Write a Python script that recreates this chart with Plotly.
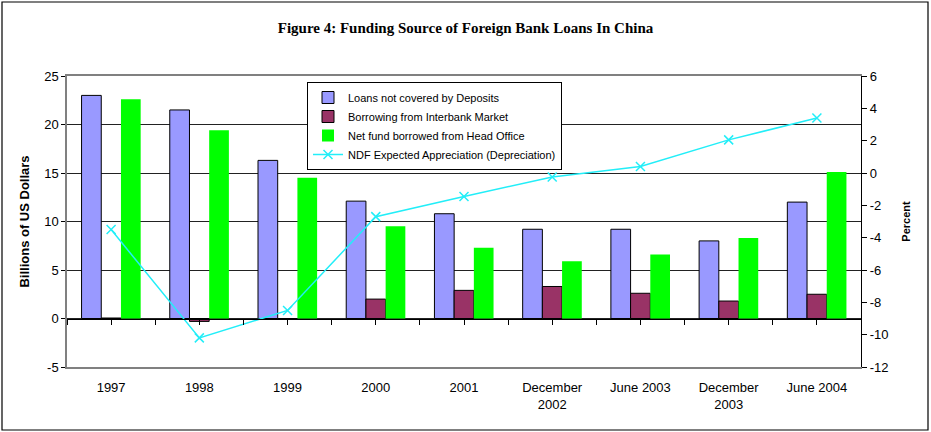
import plotly.graph_objects as go

# Periods shown along the category axis
periods = ["1997", "1998", "1999", "2000", "2001", "December<br>2002",
           "June 2003", "December<br>2003", "June 2004"]

# Funding sources, billions of US dollars
loans_not_covered = [23.0, 21.5, 16.3, 12.1, 10.8, 9.2, 9.2, 8.0, 12.0]
interbank_borrowing = [0.05, -0.3, -0.1, 2.0, 2.9, 3.3, 2.6, 1.8, 2.5]
head_office_funds = [22.6, 19.4, 14.5, 9.5, 7.3, 5.9, 6.6, 8.3, 15.1]

# NDF expected appreciation (depreciation), percent
ndf_expected = [-3.5, -10.2, -8.5, -2.7, -1.45, -0.25, 0.4, 2.05, 3.4]

# Axis tick values (labels use a plain hyphen for negatives)
left_ticks = [-5, 0, 5, 10, 15, 20, 25]
right_ticks = [-12, -10, -8, -6, -4, -2, 0, 2, 4, 6]

xpos = list(range(len(periods)))

W, H = 931, 432
ML, MR, MT, MB = 67, 70, 76, 65
pw, ph = W - ML - MR, H - MT - MB

FONT = "Liberation Sans, Arial, sans-serif"

fig = go.Figure()
fig.add_trace(go.Bar(
    x=xpos, y=loans_not_covered, name="Loans not covered by Deposits",
    marker=dict(color="#9999FF", line=dict(color="black", width=1)),
))
fig.add_trace(go.Bar(
    x=xpos, y=interbank_borrowing, name="Borrowing from Interbank Market",
    marker=dict(color="#993366", line=dict(color="black", width=1)),
))
fig.add_trace(go.Bar(
    x=xpos, y=head_office_funds, name="Net fund borrowed from Head Office",
    marker=dict(color="#00FF00", line=dict(width=0)),
))
fig.add_trace(go.Scatter(
    x=xpos, y=ndf_expected, yaxis="y2", mode="lines+markers",
    name="NDF Expected Appreciation (Depreciation)",
    line=dict(color="#22EEF8", width=1.5),
    marker=dict(symbol="x-thin", size=9, line=dict(color="#22EEF8", width=1.5)),
))
# invisible helper so the zero-line category axis is rendered
fig.add_trace(go.Scatter(x=[xpos[0]], y=[0], xaxis="x2", mode="markers",
                         marker=dict(opacity=0), showlegend=False, hoverinfo="skip"))

# outer frame around the whole chart
fig.add_shape(type="rect", xref="paper", yref="paper",
              x0=(2 - ML) / pw, x1=(928 - ML) / pw,
              y0=(H - MB - 430) / ph, y1=(H - MB - 2) / ph,
              line=dict(color="black", width=1.2), fillcolor="rgba(0,0,0,0)", layer="below")

fig.update_layout(
    width=W, height=H,
    margin=dict(l=ML, r=MR, t=MT, b=MB),
    paper_bgcolor="white", plot_bgcolor="white",
    font=dict(family=FONT, size=13, color="black"),
    barmode="group", bargap=0.33, bargroupgap=0,
    title=dict(text="<b>Figure 4: Funding Source of Foreign Bank Loans In China</b>",
               x=0.5, xanchor="center", y=1 - 28 / H, yanchor="middle",
               font=dict(family="Liberation Serif, Times New Roman, serif", size=15)),
    showlegend=True,
    legend=dict(x=(307 - ML) / pw, y=(H - MB - 82) / ph, xanchor="left", yanchor="top",
                bgcolor="white", bordercolor="black", borderwidth=1,
                font=dict(family=FONT, size=11), tracegroupgap=0,
                itemwidth=30),
    xaxis=dict(range=[-0.5, 8.5], tickvals=xpos, ticktext=periods, ticks="",
               showgrid=False, zeroline=False, showline=True, linecolor="#808080",
               linewidth=1.5, mirror=True, ticklabelstandoff=8,
               tickfont=dict(size=13)),
    xaxis2=dict(range=[-0.5, 8.5], overlaying="x", anchor="free", position=5 / 30,
                showticklabels=False, showgrid=False, zeroline=False,
                showline=True, linecolor="black", linewidth=1.2,
                ticks="outside", ticklen=5, tickcolor="black",
                tickvals=[i * 0.5 - 0.5 for i in range(19)]),
    yaxis=dict(range=[-5, 25], tickvals=left_ticks,
               ticktext=[str(v) for v in left_ticks],
               showgrid=True, gridcolor="#222222", gridwidth=1,
               zeroline=False, showline=True, linecolor="#808080", linewidth=1.5,
               ticks="outside", ticklen=4, tickcolor="black",
               title=dict(text="<b>Billions of US Dollars</b>", font=dict(size=13), standoff=12)),
    yaxis2=dict(range=[-12, 6], tickvals=right_ticks,
                ticktext=[str(v) for v in right_ticks],
                overlaying="y", side="right",
                showgrid=False, zeroline=False, showline=True, linecolor="black",
                linewidth=1.2, ticks="outside", ticklen=5, tickcolor="black",
                title=dict(text="<b>Percent</b>", font=dict(size=11), standoff=14)),
)

fig.write_html("out.html")
